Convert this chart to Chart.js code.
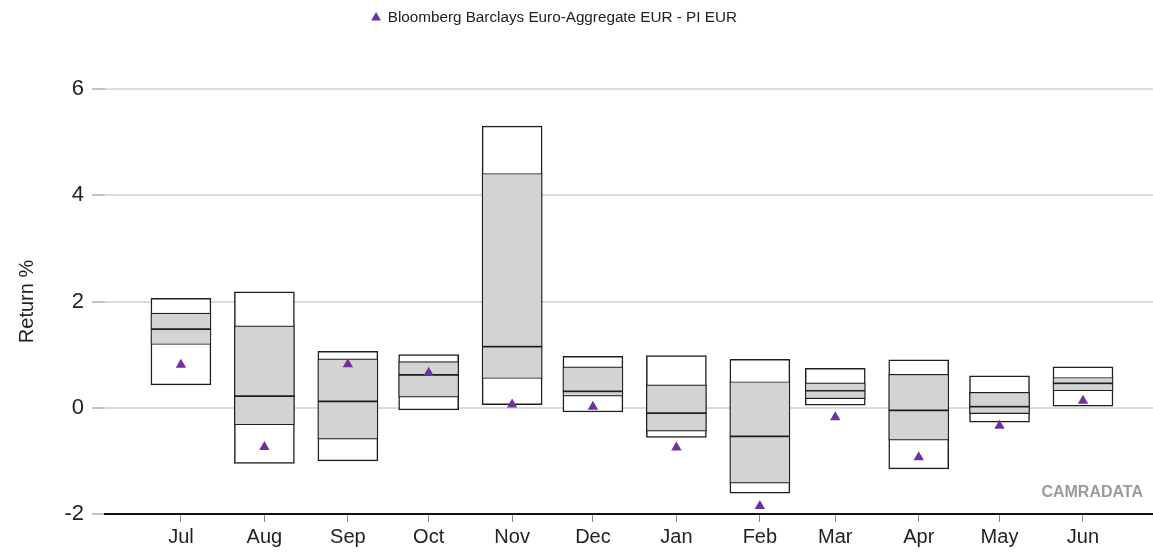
<!DOCTYPE html>
<html><head><meta charset="utf-8">
<script src="https://cdn.jsdelivr.net/npm/chart.js@4/dist/chart.umd.min.js"></script>
<style>html,body{margin:0;padding:0;background:#fff}#wrap{width:1153px;height:554px}</style>
</head><body><div id="wrap"><canvas id="c" width="1153" height="554"></canvas></div>
<script>
const months = ['Jul','Aug','Sep','Oct','Nov','Dec','Jan','Feb','Mar','Apr','May','Jun'];
const monthStarts = ['2018-07-01','2018-08-01','2018-09-01','2018-10-01','2018-11-01','2018-12-01','2019-01-01','2019-02-01','2019-03-01','2019-04-01','2019-05-01','2019-06-01'];
const p95 = [2.06, 2.18, 1.06, 1.00, 5.30, 0.97, 0.98, 0.91, 0.74, 0.90, 0.60, 0.77];
const p75 = [1.78, 1.54, 0.92, 0.87, 4.41, 0.77, 0.43, 0.49, 0.47, 0.63, 0.29, 0.57];
const p50 = [1.48, 0.22, 0.12, 0.62, 1.15, 0.31, -0.10, -0.54, 0.32, -0.05, 0.02, 0.46];
const p25 = [1.19, -0.32, -0.59, 0.20, 0.55, 0.22, -0.44, -1.42, 0.17, -0.61, -0.11, 0.32];
const p5  = [0.43, -1.05, -1.00, -0.04, 0.06, -0.08, -0.56, -1.61, 0.05, -1.15, -0.27, 0.03];
const benchmark = [0.81, -0.74, 0.82, 0.66, 0.06, 0.02, -0.75, -1.85, -0.18, -0.93, -0.34, 0.13];
const benchmarkLabel = 'Bloomberg Barclays Euro-Aggregate EUR - PI EUR';
const yTicks = [-2, 0, 2, 4, 6];
const yTitle = 'Return %';
const watermark = 'CAMRADATA';

const DAY = 86400000;
const t0 = Date.parse(monthStarts[0]);
const xs = monthStarts.map(d => (Date.parse(d) - t0) / DAY);
const FONT = "'Liberation Sans', Arial, sans-serif";
const boxLine = '#1e1e1e';

function range(lo, hi) { return xs.map((x, i) => ({x: x, y: [lo[i], hi[i]]})); }
const barCommon = { type: 'bar', grouped: false, barThickness: 60, borderSkipped: false, borderColor: boxLine };

const layoutPlugin = {
  id: 'layoutTweaks',
  afterInit(chart) {
    const lg = chart.legend;
    if (!lg) return;
    const fit = lg.fit;
    lg.fit = function () { fit.apply(this, arguments); this.height = 89; };
  },
  afterLayout(chart) {
    const lg = chart.legend;
    if (lg) { lg.left -= 22; lg.right -= 22; }
  },
  afterDraw(chart) {
    const ctx = chart.ctx;
    ctx.save();
    ctx.font = "bold 16px " + FONT;
    ctx.fillStyle = '#9b9b9b';
    ctx.textAlign = 'right';
    ctx.textBaseline = 'middle';
    ctx.fillText(watermark, chart.chartArea.right - 10, chart.chartArea.bottom - 21);
    ctx.restore();
  }
};

new Chart(document.getElementById('c'), {
  data: {
    datasets: [
      { type: 'scatter', label: benchmarkLabel, order: 0,
        data: xs.map((x, i) => ({x: x, y: benchmark[i]})),
        pointStyle: 'triangle', pointRadius: 6, pointHoverRadius: 6,
        backgroundColor: '#7030a0', borderColor: '#7030a0', borderWidth: 0 },
      Object.assign({ label: 'upper quartile', order: 1, data: range(p50, p75), backgroundColor: '#d3d3d3', borderWidth: 1.2 }, barCommon),
      Object.assign({ label: 'lower quartile', order: 1, data: range(p25, p50), backgroundColor: '#d3d3d3', borderWidth: 1.2 }, barCommon),
      Object.assign({ label: 'range', order: 2, data: range(p5, p95), backgroundColor: '#ffffff', borderWidth: 1.5 }, barCommon)
    ]
  },
  options: {
    responsive: false,
    animation: false,
    events: [],
    layout: { padding: 0, autoPadding: false },
    plugins: {
      tooltip: { enabled: false },
      legend: {
        position: 'top',
        labels: {
          filter: item => item.datasetIndex === 0,
          usePointStyle: true, boxWidth: 8, boxHeight: 8,
          color: '#222', font: { family: FONT, size: 15.25 }, padding: 10
        }
      }
    },
    scales: {
      x: {
        type: 'linear',
        offset: false,
        min: -28.2, max: 361,
        afterBuildTicks: s => { s.ticks = xs.map(v => ({value: v})); },
        afterFit: s => { s.height = 40; s.paddingRight = 0; s.paddingLeft = 0; },
        ticks: {
          callback: (v) => { const i = xs.indexOf(v); return i >= 0 ? months[i] : ''; },
          color: '#222', font: { family: FONT, size: 20 }, padding: 3, maxRotation: 0, autoSkip: false
        },
        grid: { offset: false, drawOnChartArea: false, drawTicks: true, tickLength: 8, tickColor: '#888', tickWidth: 1 },
        border: { display: true, color: '#111', width: 2 }
      },
      y: {
        min: -2, max: 6,
        afterBuildTicks: s => { s.ticks = yTicks.map(v => ({value: v})); },
        afterFit: s => { s.width = 105; },
        ticks: { color: '#222', font: { family: FONT, size: 22 }, padding: 8 },
        grid: { color: '#dcdcdc', lineWidth: 2, tickLength: 13, tickColor: '#888', tickWidth: 1 },
        border: { display: false },
        title: { display: true, text: yTitle, color: '#222', font: { family: FONT, size: 20 }, padding: { top: 15, bottom: 0 } }
      }
    }
  },
  plugins: [layoutPlugin]
});
</script>
</body></html>
